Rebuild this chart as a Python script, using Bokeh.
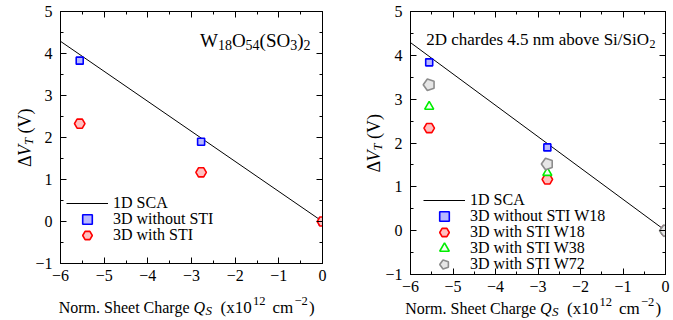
import numpy as np
from bokeh.plotting import figure
from bokeh.models import (Range1d, FixedTicker, LinearAxis, CustomJSTickFormatter,
                          Label, Legend, LegendItem, ColumnDataSource)
from bokeh.core.properties import value
from bokeh.layouts import row
from bokeh.embed import file_html
from bokeh.resources import INLINE

# ---------------- data ----------------
q_sca = [-6.0, 0.0]
v_sca = [4.29, 0.0]
q_pts = [-5.56, -2.78, 0.0]
left_no_sti = [3.83, 1.90, 0.0]
left_sti = [2.33, 1.17, 0.0]
right_no_sti_w18 = [3.84, 1.90, 0.0]
right_sti_w18 = [2.34, 1.17, 0.0]
right_sti_w38 = [2.83, 1.32, 0.0]
right_sti_w72 = [3.33, 1.52, 0.0]
x_ticks = [-6, -5, -4, -3, -2, -1, 0]
x_minor = [-5.5, -4.5, -3.5, -2.5, -1.5, -0.5]
y_ticks = [-1, 0, 1, 2, 3, 4, 5]
y_minor = [-0.5, 0.5, 1.5, 2.5, 3.5, 4.5]
left_labels = ["1D SCA", "3D without STI", "3D with STI"]
right_labels = ["1D SCA", "3D without STI W18", "3D with STI W18",
                "3D with STI W38", "3D with STI W72"]

FONT = "Liberation Serif"
FS = "16px"

fmt_code = "return tick < 0 ? '\\u2212' + Math.abs(tick) : String(tick);"


def style_axis(ax, show_labels, standoff=8):
    ax.major_tick_in = 6
    ax.major_tick_out = 0
    ax.minor_tick_in = 3
    ax.minor_tick_out = 0
    ax.axis_line_color = "black"
    ax.major_tick_line_color = "black"
    ax.minor_tick_line_color = "black"
    ax.major_label_text_font = FONT
    ax.major_label_text_font_size = FS
    ax.major_label_standoff = standoff
    ax.formatter = CustomJSTickFormatter(code=fmt_code)
    if show_labels:
        ax.major_label_text_color = "black"
    else:
        ax.major_label_text_color = None
        ax.major_label_standoff = 0


def make_fig(width, b_left, b_right, b_bottom):
    p = figure(width=width, height=320, x_range=Range1d(-6, 0), y_range=Range1d(-1, 5),
               output_backend="svg", toolbar_location=None,
               min_border_left=b_left, min_border_right=b_right,
               min_border_top=11, min_border_bottom=b_bottom, frame_align=False)
    p.xgrid.visible = False
    p.ygrid.visible = False
    p.outline_line_color = "black"
    p.background_fill_color = "white"
    p.border_fill_color = "white"
    xt = FixedTicker(ticks=x_ticks, minor_ticks=x_minor)
    yt = FixedTicker(ticks=y_ticks, minor_ticks=y_minor)
    p.xaxis.ticker = xt
    p.yaxis.ticker = yt
    style_axis(p.xaxis[0], True, 6)
    style_axis(p.yaxis[0], True, 8)
    top = LinearAxis(ticker=xt)
    style_axis(top, False)
    rgt = LinearAxis(ticker=yt)
    style_axis(rgt, False)
    p.add_layout(top, "above")
    p.add_layout(rgt, "right")
    return p


def gtext(p, x, y, txt, xo, yo, size, style="normal", align="left", angle=0.0):
    # text glyph on the overlay level (not clipped to the frame); offsets in pixels, y down
    p.text(x=[x], y=[y], text=[txt], x_offset=xo, y_offset=yo, angle=angle,
           text_font=value(FONT), text_font_size=value(size), text_font_style=value(style),
           text_align=value(align), text_baseline=value("alphabetic"), text_color="black",
           level="overlay")


def axis_labels(p, xb, yb):
    # x label: Norm. Sheet Charge Q_S (x10^12 cm^-2), centred on the x range
    gtext(p, -3, -1, "Norm. Sheet Charge", -2, xb, FS, align="right")
    gtext(p, -3, -1, "Q", 2, xb, FS, style="italic")
    gtext(p, -3, -1, "S", 14, xb + 3, "13px", style="italic")
    gtext(p, -3, -1, "(x10", 29, xb, "17px")
    gtext(p, -3, -1, "12", 61.5, xb - 6.5, "12.5px")
    gtext(p, -3, -1, "cm", 81, xb, "17px")
    gtext(p, -3, -1, "−2", 103, xb - 6.5, "12.5px")
    gtext(p, -3, -1, ")", 117.5, xb, "17px")
    # y label: ΔV_T (V), rotated, centred on the y range
    a = np.pi / 2
    gtext(p, -6, 2, "Δ", yb, 29.5, "18px", angle=a)
    gtext(p, -6, 2, "V", yb, 18.5, "18px", style="italic", angle=a)
    gtext(p, -6, 2, "T", yb + 4, 7.5, "12.5px", style="italic", angle=a)
    gtext(p, -6, 2, "(V)", yb, -4, "18px", angle=a)


def legends(p, renderers, labels, x, bottoms, fs):
    for r, lab, b in zip(renderers, labels, bottoms):
        lg = Legend(items=[LegendItem(label=lab, renderers=[r])], location=(x, b),
                    padding=0, margin=0, spacing=0,
                    glyph_width=42, glyph_height=24, label_height=24, label_standoff=5,
                    border_line_alpha=0, background_fill_alpha=0,
                    label_text_font=FONT, label_text_font_size=fs, label_text_color="black")
        p.add_layout(lg)


def title_pieces(p, pieces, right_off, base_off):
    # pieces listed left-to-right: (text, size, drop, width); placed right-aligned from the end
    pos = right_off
    for text, size, drop, w in reversed(pieces):
        p.add_layout(Label(x=0, y=5, x_offset=pos, y_offset=base_off - drop, text=text,
                           text_align="right", text_baseline="alphabetic", text_font=FONT,
                           text_font_size=size, text_color="black"))
        pos -= w


BLUE = dict(marker="square", size=7, line_color="#0000ff", fill_color="#b8b8ff", line_width=1.6)
RED = dict(marker="hex", size=10.5, line_color="#ff0000", fill_color="#ffc0c0", line_width=1.6)
GREEN = dict(marker="triangle", size=9, line_color="#00ee00", fill_color="#f4fff4", line_width=1.6)
GRAY = dict(line_color="#8c8c8c", fill_color="#e6e6e6", line_width=1.6)

# ---------------- left plot ----------------
p1 = make_fig(340, 60, 18, 57)
r_l = p1.line(q_sca, v_sca, line_color="black", line_width=1)
r_b = p1.scatter(q_pts, left_no_sti, **BLUE)
r_r = p1.scatter(q_pts, left_sti, **RED)
legends(p1, [r_l, r_b, r_r], left_labels, 6, [48, 32, 16], "16px")
title_pieces(p1, [("W", "19px", 0, 17.9), ("18", "14px", 4, 14.0),
                  ("O", "19px", 0, 13.7), ("54", "14px", 4, 14.0),
                  ("(SO", "19px", 0, 30.6), ("3", "14px", 4, 7.0),
                  (")", "19px", 0, 6.3), ("2", "14px", 4, 7.0)], -12, -29)
axis_labels(p1, 44, -36)

# ---------------- right plot ----------------
p2 = make_fig(333, 70, 8, 46)
r2_l = p2.line(q_sca, v_sca, line_color="black", line_width=1)
r2_b = p2.scatter(q_pts, right_no_sti_w18, **BLUE)
r2_r = p2.scatter(q_pts, right_sti_w18, **RED)
r2_g = p2.scatter(q_pts, right_sti_w38, **GREEN)
src72 = ColumnDataSource(dict(x=q_pts, y=right_sti_w72))
r2_p = p2.ngon(x="x", y="y", radius=6, n=5, radius_units="screen", angle=np.pi / 2,
               source=src72, **GRAY)
legends(p2, [r2_l, r2_b, r2_r, r2_g, r2_p], right_labels, 13,
        [62.5, 46.5, 30.5, 14.5, -1.5], "16px")
title_pieces(p2, [("2D chardes 4.5 nm above Si/SiO", "17px", 0, 220.0),
                  ("2", "12px", 4, 6.5)], -10, -28)
axis_labels(p2, 34, -37)

layout = row(p1, p2)
open("out.html", "w").write(file_html(layout, INLINE))
